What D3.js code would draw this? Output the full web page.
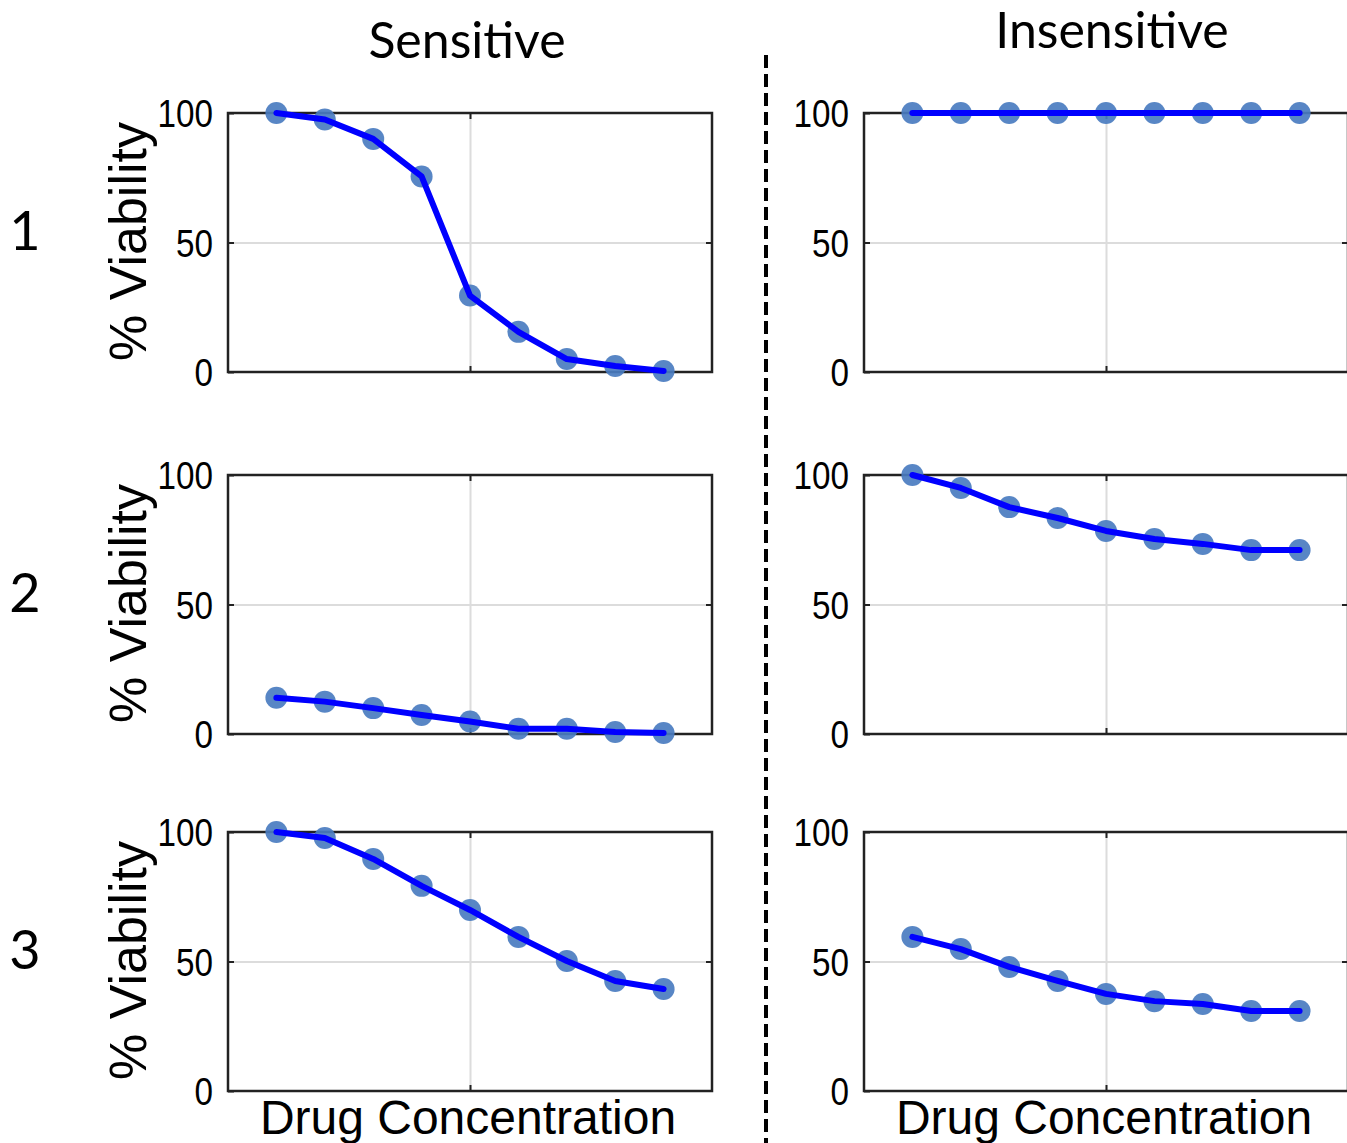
<!DOCTYPE html>
<html>
<head>
<script src="https://d3js.org/d3.v7.min.js"></script>
<style>
  body { margin: 0; background: #fff; }
  text { fill: #000; }
</style>
</head>
<body>
<svg class="target" width="1347" height="1143"></svg>
<script>

// drug concentration steps (index only, no labels shown)
doses = [0, 1, 2, 3, 4, 5, 6, 7, 8]
yTicks = [0, 50, 100]
columns = ['Sensitive', 'Insensitive']
rowNames = ['1', '2', '3']

// % viability
sens1 = [100, 97.5, 90, 75.5, 29.5, 15.5, 5, 2.3, 0.4]
sens2 = [14, 12.5, 10, 7.3, 4.8, 2, 2, 0.8, 0.4]
sens3 = [100, 97.7, 89.6, 79.2, 69.9, 59.5, 50.2, 42.5, 39.4]
insens1 = [100, 100, 100, 100, 100, 100, 100, 100, 100]
insens2 = [100, 95, 87.6, 83.4, 78.4, 75.3, 73.4, 71, 71]
insens3 = [59.5, 54.8, 47.9, 42.5, 37.5, 34.7, 33.6, 30.9, 30.9]

series = [
  [sens1, insens1],
  [sens2, insens2],
  [sens3, insens3]
]

width = 1347
height = 1143

colLeft = [228, 864]   // left edge of each plot box
rowTop = [113, 475, 832]
pw = 484
ph = 259

const svg = d3.select('.target')
    .attr('width', width)
    .attr('height', height)

svg.append('rect').attr('width', width).attr('height', height).attr('fill', '#fff')

x = d3.scaleLinear([-1, 9], [0, pw])
y = d3.scaleLinear([0, 100], [ph, 0])

line = d3.line()
  .x((d, i) => x(doses[i]))
  .y(d => y(d))

series.forEach((row, r) => {
  row.forEach((vals, c) => {
    const g = svg.append('g')
        .attr('transform', `translate(${colLeft[c]},${rowTop[r]})`)

    // grid lines
    g.append('g')
        .call(d3.axisLeft(y).tickValues([50]).tickSize(-pw).tickFormat(''))
        .call(s => s.select('.domain').remove())
        .selectAll('line').attr('stroke', '#dcdcdc').attr('stroke-width', 2)
    g.append('g')
        .attr('transform', `translate(0,${ph})`)
        .call(d3.axisBottom(x).tickValues([4]).tickSize(-ph).tickFormat(''))
        .call(s => s.select('.domain').remove())
        .selectAll('line').attr('stroke', '#dcdcdc').attr('stroke-width', 2)

    // box
    g.append('rect')
        .attr('width', pw).attr('height', ph)
        .attr('fill', 'none').attr('stroke', '#222').attr('stroke-width', 2.5)

    // inward ticks + labels (narrow digits like the original)
    const yAx = g.append('g')
        .call(d3.axisLeft(y).tickValues(yTicks).tickSizeInner(-6).tickSizeOuter(0).tickPadding(15))
    yAx.select('.domain').remove()
    yAx.selectAll('line').attr('stroke', '#222').attr('stroke-width', 2)
    yAx.selectAll('text')
        .attr('font-family', 'Liberation Sans, Arial, sans-serif')
        .attr('font-size', 38)
        .attr('fill', '#111')
        .attr('dy', '0.36em')
        .attr('textLength', d => String(d).length * 18.5)
        .attr('lengthAdjust', 'spacingAndGlyphs')

    g.append('g').attr('transform', `translate(${pw},0)`)
        .call(d3.axisRight(y).tickValues([50]).tickSizeInner(-6).tickSizeOuter(0).tickFormat(''))
        .call(s => s.select('.domain').remove())
        .selectAll('line').attr('stroke', '#222').attr('stroke-width', 2)
    g.append('g')
        .call(d3.axisTop(x).tickValues([4]).tickSizeInner(-6).tickSizeOuter(0).tickFormat(''))
        .call(s => s.select('.domain').remove())
        .selectAll('line').attr('stroke', '#222').attr('stroke-width', 2)
    g.append('g').attr('transform', `translate(0,${ph})`)
        .call(d3.axisBottom(x).tickValues([4]).tickSizeInner(-6).tickSizeOuter(0).tickFormat(''))
        .call(s => s.select('.domain').remove())
        .selectAll('line').attr('stroke', '#222').attr('stroke-width', 2)

    // markers
    g.selectAll('circle')
      .data(vals)
      .join('circle')
        .attr('cx', (d, i) => x(doses[i]))
        .attr('cy', d => y(d))
        .attr('r', 11)
        .attr('fill', '#4a7cc0')
        .attr('fill-opacity', 0.92)

    // line
    g.append('path')
        .datum(vals)
        .attr('fill', 'none')
        .attr('stroke', '#0000ff')
        .attr('stroke-width', 6)
        .attr('stroke-linejoin', 'round')
        .attr('stroke-linecap', 'round')
        .attr('d', line)

    if (c === 0) {
      svg.append('text')
          .attr('transform', `translate(${colLeft[0] - 101},${rowTop[r] + ph / 2 - 1}) rotate(-90)`)
          .attr('text-anchor', 'middle')
          .attr('dy', '0.36em')
          .attr('font-family', 'Liberation Sans, Arial, sans-serif')
          .attr('font-size', 52)
          .text('% Viability')
    }

    if (r === 2) {
      svg.append('text')
          .attr('x', colLeft[c] + pw / 2 - 2)
          .attr('y', rowTop[r] + ph + 43)
          .attr('text-anchor', 'middle')
          .attr('font-family', 'Liberation Sans, Arial, sans-serif')
          .attr('font-size', 48)
          .text('Drug Concentration')
    }
  })

  svg.append('text')
      .attr('x', 25)
      .attr('y', rowTop[r] + ph / 2 - 12)
      .attr('text-anchor', 'middle')
      .attr('dy', '0.36em')
      .attr('font-family', 'Lato, Open Sans, sans-serif')
      .attr('font-size', 54)
      .text(rowNames[r])
})

// column titles
svg.selectAll('.coltitle')
  .data(columns)
  .join('text')
    .attr('class', 'coltitle')
    .attr('x', (d, i) => [467, 1112][i])
    .attr('y', (d, i) => [58, 48][i])
    .attr('text-anchor', 'middle')
    .attr('font-family', 'Lato, Open Sans, sans-serif')
    .attr('font-size', 50)
    .text(d => d)

// dashed divider
svg.append('line')
    .attr('x1', 766).attr('x2', 766)
    .attr('y1', 55).attr('y2', height)
    .attr('stroke', '#000')
    .attr('stroke-width', 4)
    .attr('stroke-dasharray', '13,6')

</script>
</body>
</html>
